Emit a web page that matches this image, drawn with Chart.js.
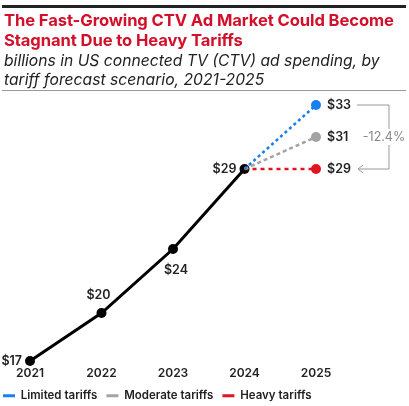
<!DOCTYPE html>
<html>
<head>
<meta charset="utf-8">
<script src="https://cdn.jsdelivr.net/npm/chart.js@4.4.1/dist/chart.umd.min.js"></script>
<style>
  body { margin: 0; background: #fff; }
  #wrap { position: relative; width: 409px; height: 406px; overflow: hidden; }
  #chart { position: absolute; left: 0; top: 0; }
  #head { position: absolute; left: 0; top: 0; width: 409px; font-family: Inter, "Noto Sans", sans-serif; }
  #topline { position: absolute; left: 2px; right: 3px; top: 5px; height: 3px; background: #222; }
  #title { position: absolute; left: 4px; top: 11px; color: #d3102a; font-weight: 700; font-size: 16.6px; line-height: 19.5px; white-space: nowrap; letter-spacing: -0.1px; }
  #sub { position: absolute; left: 4px; top: 51px; color: #222; font-style: italic; font-size: 15.7px; line-height: 19px; white-space: nowrap; }
  #rule { position: absolute; left: 2px; right: 3px; top: 90px; height: 1px; background: #999; }
</style>
</head>
<body>
<div id="wrap">
  <canvas id="chart" width="409" height="406"></canvas>
  <div id="head">
    <div id="topline"></div>
    <div id="title">The Fast-Growing CTV Ad Market Could Become<br>Stagnant Due to Heavy Tariffs</div>
    <div id="sub">billions in US connected TV (CTV) ad spending, by<br>tariff forecast scenario, 2021-2025</div>
    <div id="rule"></div>
  </div>
</div>
<script>
// data
const years = ['2021', '2022', '2023', '2024', '2025'];
const actual = [17, 20, 24, 29, null];
const limited = [null, null, null, 29, 33];
const moderate = [null, null, null, 29, 31];
const heavy = [null, null, null, 29, 29];
const scenarioNames = ['Limited tariffs', 'Moderate tariffs', 'Heavy tariffs'];
const changeLabel = '-12.4%';

// where each historical value label sits relative to its point
const actualLabelSide = ['left', 'above', 'below', 'left'];
const scenarioColors = ['#1a7ff2', '#a3a3a3', '#e11520'];

const fontFamily = 'Inter, "Noto Sans", sans-serif';

function scenarioSet(name, values, color, dash) {
  return {
    label: name,
    data: values,
    borderColor: color,
    backgroundColor: color,
    borderWidth: 2.5,
    borderDash: dash,
    pointRadius: [0, 0, 0, 0, 5],
    pointHoverRadius: [0, 0, 0, 0, 5],
    pointBackgroundColor: color,
    pointBorderWidth: 0,
    clip: false,
    tension: 0
  };
}

const labelPlugin = {
  id: 'valueLabels',
  afterDatasetsDraw(chart) {
    const ctx = chart.ctx;
    const y = chart.scales.y;
    ctx.save();
    ctx.font = '600 12.5px ' + fontFamily;
    ctx.fillStyle = '#222';

    const m0 = chart.getDatasetMeta(3);
    actual.forEach((v, i) => {
      if (v == null) return;
      const p = m0.data[i];
      const t = '$' + v;
      const side = actualLabelSide[i];
      if (side === 'left') {
        ctx.textAlign = 'right'; ctx.textBaseline = 'middle';
        ctx.fillText(t, p.x - 8, p.y);
      } else if (side === 'above') {
        ctx.textAlign = 'center'; ctx.textBaseline = 'middle';
        ctx.fillText(t, p.x - 3, p.y - 18);
      } else {
        ctx.textAlign = 'center'; ctx.textBaseline = 'middle';
        ctx.fillText(t, p.x + 3, p.y + 21);
      }
    });

    // forecast end labels
    [limited, moderate, heavy].forEach((arr, k) => {
      const p = chart.getDatasetMeta(k).data[4];
      ctx.textAlign = 'left'; ctx.textBaseline = 'middle';
      ctx.fillText('$' + arr[4], p.x + 11, p.y);
    });

    // bracket from limited to heavy
    const top = y.getPixelForValue(limited[4]);
    const bot = y.getPixelForValue(heavy[4]);
    const x0 = chart.scales.x.getPixelForValue(4) + 41;
    const x1 = x0 + 32;
    ctx.strokeStyle = '#999';
    ctx.lineWidth = 1;
    ctx.beginPath();
    ctx.moveTo(x0, top); ctx.lineTo(x1, top); ctx.lineTo(x1, bot); ctx.lineTo(x0 + 1, bot);
    ctx.moveTo(x0 + 6, bot - 4); ctx.lineTo(x0 + 1, bot); ctx.lineTo(x0 + 6, bot + 4);
    ctx.stroke();

    ctx.font = '400 12.5px ' + fontFamily;
    const mid = (top + bot) / 2;
    const tw = ctx.measureText(changeLabel).width;
    ctx.fillStyle = '#fff';
    ctx.fillRect(x1 - 5 - tw / 2, mid - 8, tw + 2, 16);
    ctx.fillStyle = '#888';
    ctx.textAlign = 'center';
    ctx.fillText(changeLabel, x1 - 5, mid);
    ctx.restore();
  }
};

new Chart(document.getElementById('chart'), {
  type: 'line',
  data: {
    labels: years,
    datasets: [
      scenarioSet(scenarioNames[0], limited, scenarioColors[0], [3, 3]),
      scenarioSet(scenarioNames[1], moderate, scenarioColors[1], [4, 3]),
      scenarioSet(scenarioNames[2], heavy, scenarioColors[2], [4, 4]),
      {
        label: 'Actual',
        data: actual,
        borderColor: '#000',
        backgroundColor: '#000',
        borderWidth: 3,
        pointRadius: 5,
        pointBackgroundColor: '#000',
        pointBorderWidth: 0,
        clip: false,
        tension: 0
      }
    ]
  },
  options: {
    responsive: false,
    animation: false,
    layout: { padding: { top: 105, left: -6, right: 0, bottom: -5.5 } },
    scales: {
      x: {
        offset: false,
        grid: { display: false, drawTicks: false },
        border: { display: false },
        ticks: { color: '#222', font: { family: fontFamily, size: 12, weight: '600', lineHeight: 1 }, padding: 6, maxRotation: 0 },
        afterFit(s) { s.height = 20; }
      },
      y: {
        min: 17, max: 33,
        grid: { display: false, drawTicks: false },
        border: { display: false },
        ticks: { display: false },
        afterFit(s) { s.width = 36; }
      },
      y2: {
        position: 'right',
        min: 0, max: 1,
        grid: { display: false, drawTicks: false },
        border: { display: false },
        ticks: { display: false },
        afterFit(s) { s.width = 93; }
      }
    },
    plugins: {
      tooltip: { enabled: false },
      legend: {
        position: 'bottom',
        align: 'start',
        labels: {
          color: '#222',
          font: { family: fontFamily, size: 11.5, weight: '600' },
          boxWidth: 12,
          boxHeight: 3,
          padding: 9,
          useBorderRadius: true,
          borderRadius: 1.5,
          generateLabels(chart) {
            return scenarioNames.map((n, i) => ({
              text: n, fillStyle: scenarioColors[i], strokeStyle: scenarioColors[i],
              lineWidth: 0, hidden: false, datasetIndex: i, fontColor: '#222'
            }));
          }
        }
      }
    }
  },
  plugins: [labelPlugin]
});
</script>
</body>
</html>
